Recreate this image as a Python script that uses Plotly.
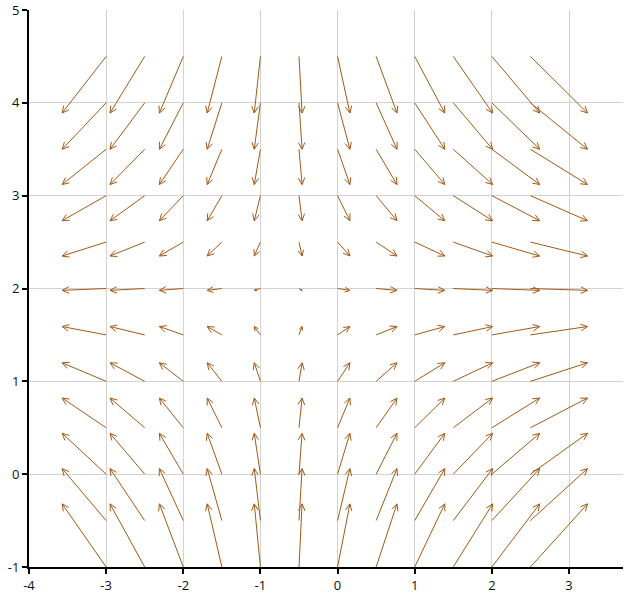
import math
import plotly.graph_objects as go

# Grid of arrow tails (data units)
x_cols = [-3, -2.5, -2, -1.5, -1, -0.5, 0, 0.5, 1, 1.5, 2, 2.5]
y_rows = [-1, -0.5, 0, 0.5, 1, 1.5, 2, 2.5, 3, 3.5, 4, 4.5]
# Horizontal component per column, vertical component per row
u_cols = [-0.57, -0.45, -0.31, -0.19, -0.08, 0.04, 0.16, 0.27, 0.39, 0.51, 0.62, 0.74]
v_rows = [0.68, 0.56, 0.44, 0.32, 0.20, 0.09, -0.02, -0.15, -0.27, -0.38, -0.50, -0.61]

x_ticks = [-4, -3, -2, -1, 0, 1, 2, 3]
x_tick_labels = ["-4", "-3", "-2", "-1", "0", "1", "2", "3"]
y_ticks = [-1, 0, 1, 2, 3, 4, 5]
y_tick_labels = ["-1", "0", "1", "2", "3", "4", "5"]

W, H = 624, 597
ML, MR, MT, MB = 29, 1, 10, 30
XMIN, YMIN, YMAX = -4, -1, 5
PX_PER_X = 540 / 7.0
XMAX = XMIN + (W - ML - MR) / PX_PER_X
PX_PER_Y = (H - MT - MB) / (YMAX - YMIN)

COLOR = "#a35a17"
HEAD_LEN = 7.5
HEAD_ANG = math.radians(26)

lx, ly = [], []
for i, x0 in enumerate(x_cols):
    for j, y0 in enumerate(y_rows):
        u = u_cols[i]
        v = v_rows[j]
        x1, y1 = x0 + u, y0 + v
        lx += [x0, x1, None]
        ly += [y0, y1, None]
        dxp, dyp = u * PX_PER_X, v * PX_PER_Y
        L = math.hypot(dxp, dyp)
        if L < 1e-6:
            continue
        hl = min(HEAD_LEN, 0.45 * L)
        ang = math.atan2(dyp, dxp)
        for s in (1, -1):
            a = ang + math.pi + s * HEAD_ANG
            bx = x1 + hl * math.cos(a) / PX_PER_X
            by = y1 + hl * math.sin(a) / PX_PER_Y
            lx += [x1, bx, None]
            ly += [y1, by, None]

fig = go.Figure()
fig.add_trace(go.Scatter(x=lx, y=ly, mode="lines",
                         line=dict(color=COLOR, width=1),
                         hoverinfo="skip", showlegend=False))

axis_common = dict(
    showgrid=True, gridcolor="#d3d3d3", gridwidth=1,
    zeroline=False, showline=True, linecolor="black", linewidth=2,
    ticks="outside", ticklen=5, tickwidth=2, tickcolor="black",
    tickfont=dict(family="Open Sans, Noto Sans, sans-serif", size=13, color="#111111"),
)
fig.update_xaxes(range=[XMIN, XMAX], tickvals=x_ticks, ticktext=x_tick_labels, **axis_common)
fig.update_yaxes(range=[YMIN, YMAX], tickvals=y_ticks, ticktext=y_tick_labels, **axis_common)

fig.update_layout(
    width=W, height=H,
    margin=dict(l=ML, r=MR, t=MT, b=MB, autoexpand=False),
    plot_bgcolor="white", paper_bgcolor="white",
    showlegend=False,
)

fig.write_html("out.html",
               config={"displayModeBar": False},
               post_script="document.body.style.margin='0';document.body.style.overflow='hidden';")
